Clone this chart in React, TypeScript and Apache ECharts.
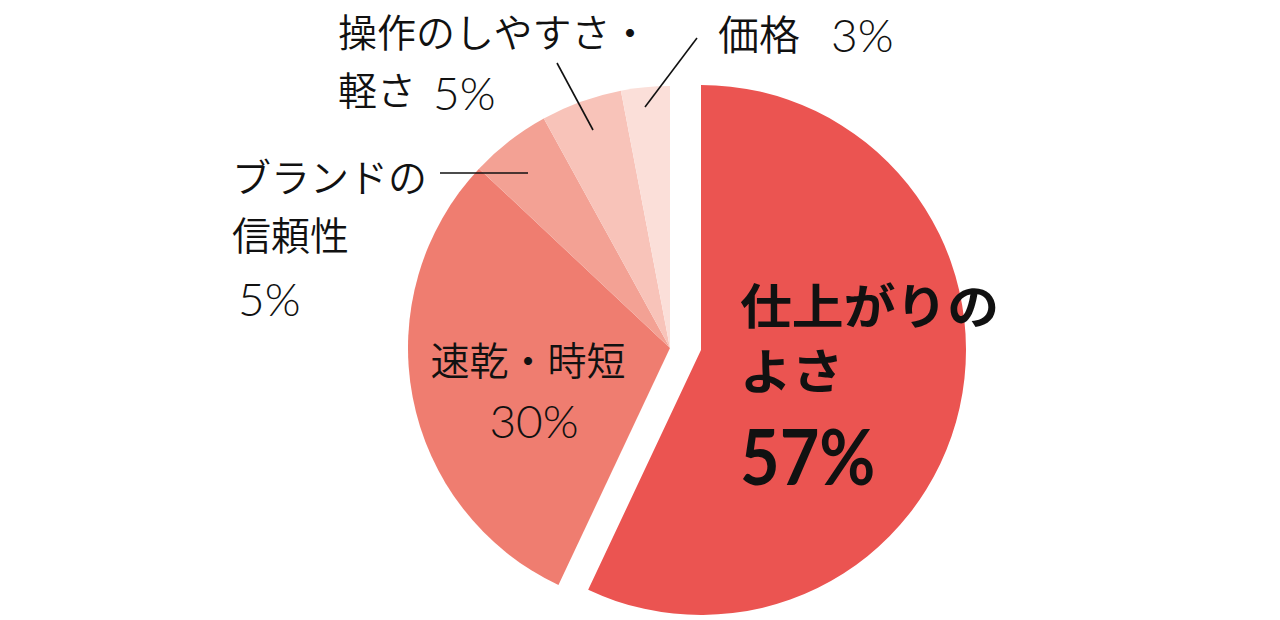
import React, { useEffect, useRef } from "react";
import * as echarts from "echarts";

const categories = ["仕上がりのよさ", "速乾・時短", "ブランドの信頼性", "操作のしやすさ・軽さ", "価格"];
const values = [57, 30, 5, 5, 3];
const colors = ["#EB5451", "#EF7D70", "#F3A194", "#F8C3B9", "#FBDFD9"];

const CJK = '"Noto Sans CJK JP", "Noto Sans", sans-serif';
const NUM = 'Lato, "Noto Sans", sans-serif';

function txt(text: string, x: number, y: number, size: number, opts: any = {}) {
  return {
    type: "text",
    x,
    y,
    scaleX: opts.scaleX ?? 1,
    z: 10,
    style: {
      text,
      fontSize: size,
      fontFamily: opts.family ?? CJK,
      fontWeight: opts.weight ?? 350,
      fill: "#111",
      align: opts.align ?? "left",
      verticalAlign: "middle",
    },
  };
}

function ln(x1: number, y1: number, x2: number, y2: number) {
  return {
    type: "line",
    z: 10,
    shape: { x1, y1, x2, y2 },
    style: { stroke: "#111", lineWidth: 1.6 },
  };
}

export default function App() {
  const ref = useRef<HTMLDivElement>(null);
  useEffect(() => {
    document.body.style.margin = "0";
    const chart = echarts.init(ref.current!, null, { renderer: "svg" });
    const pct = (i: number) => `${values[i]}%`;
    const basePie = {
      type: "pie",
      startAngle: 90,
      clockwise: true,
      label: { show: false },
      labelLine: { show: false },
      emphasis: { disabled: true },
      silent: true,
    };
    chart.setOption({
      animation: false,
      backgroundColor: "#ffffff",
      series: [
        {
          ...basePie,
          center: [670, 348],
          radius: 262,
          data: categories.map((name, i) => ({
            name,
            value: values[i],
            itemStyle: { color: i === 0 ? "rgba(0,0,0,0)" : colors[i], borderWidth: 0 },
          })),
        },
        {
          ...basePie,
          center: [701, 350],
          radius: 265,
          data: categories.map((name, i) => ({
            name,
            value: values[i],
            itemStyle: { color: i === 0 ? colors[i] : "rgba(0,0,0,0)", borderWidth: 0 },
          })),
        },
      ],
      graphic: [
        // 仕上がりのよさ
        txt("仕上がりの", 740, 303, 48, { weight: "bold", scaleX: 1.08 }),
        txt("よさ", 740, 368, 48, { weight: "bold", scaleX: 1.08 }),
        txt(pct(0), 740, 456, 76, { weight: "bold", family: NUM, scaleX: 0.9 }),
        // 速乾・時短
        txt("速乾・時短", 528, 358, 39, { align: "center" }),
        txt(pct(1), 534, 420, 46, { align: "center", family: NUM, weight: 300 }),
        // ブランドの信頼性
        txt("ブランドの", 232, 175, 39),
        txt("信頼性", 232, 233, 39),
        txt(pct(2), 238, 298, 46, { family: NUM, weight: 300 }),
        ln(440, 173, 528, 173),
        // 操作のしやすさ・軽さ
        txt("操作のしやすさ・", 338, 30, 39),
        txt("軽さ", 338, 88, 39),
        txt(pct(3), 433, 92, 46, { family: NUM, weight: 300 }),
        ln(557, 63, 593, 130),
        // 価格
        txt("価格", 718, 32, 41),
        txt(pct(4), 831, 34, 46, { family: NUM, weight: 300 }),
        ln(697, 38, 645, 107),
      ],
    });
    return () => chart.dispose();
  }, []);
  return <div ref={ref} style={{ width: 1280, height: 620 }} />;
}
